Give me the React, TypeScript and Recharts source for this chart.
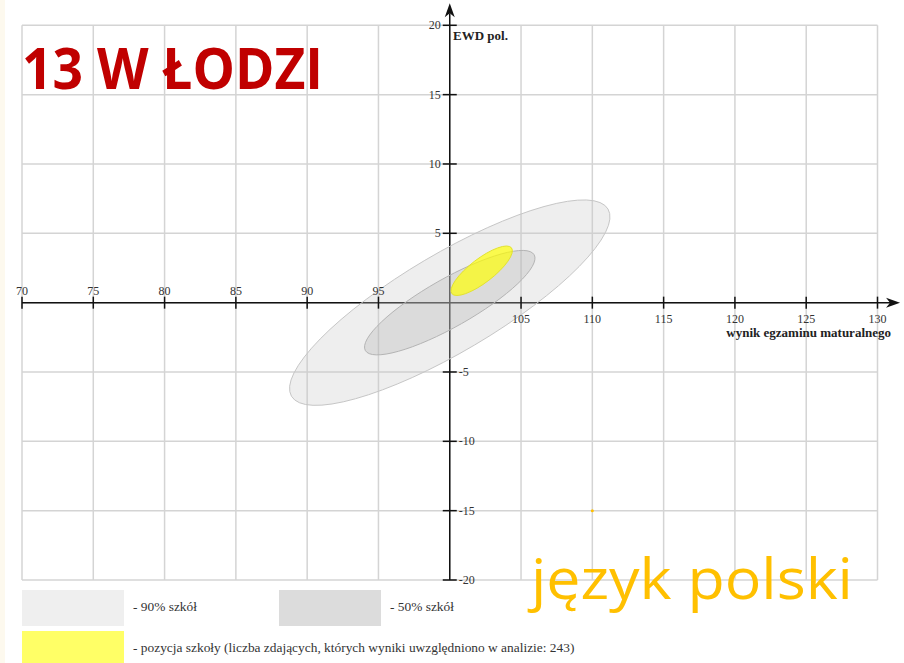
import { ReferenceLine, Scatter, ScatterChart, XAxis, YAxis } from "recharts";

const xTicks = [70, 75, 80, 85, 90, 95, 100, 105, 110, 115, 120, 125, 130];
const yTicks = [-20, -15, -10, -5, 0, 5, 10, 15, 20];

// ellipse = centre, end of first semi-axis, end of second semi-axis
const ellipse90 = [
  { x: 100, y: 0 },
  { x: 111.1, y: 6.75 },
  { x: 98.25, y: 3.05 },
];
const ellipse50 = [
  { x: 100, y: 0 },
  { x: 105.92, y: 3.45 },
  { x: 99.17, y: 1.51 },
];
const schoolEllipse = [
  { x: 102.24, y: 2.3 },
  { x: 104.33, y: 3.95 },
  { x: 101.73, y: 2.98 },
];
const stray = [{ x: 110, y: -15 }];

const legendItems = [
  { label: "- 90% szkół", color: "#efefef" },
  { label: "- 50% szkół", color: "#dcdcdc" },
  {
    label:
      "- pozycja szkoły (liczba zdających, których wyniki uwzględniono w analizie: 243)",
    color: "#ffff66",
  },
];

const serif = '"Liberation Serif", "Times New Roman", serif';
const sans = '"Open Sans", "Noto Sans", sans-serif';

const xTickPoints = xTicks.filter((v) => v !== 100).map((v) => ({ x: v, y: 0 }));
const yTickPoints = yTicks.filter((v) => v !== 0).map((v) => ({ x: 100, y: v }));

function ellipseLine(fill: string, opacity: number, stroke: string) {
  return (props: any) => {
    const pts = props.points || [];
    if (pts.length < 3) return <g />;
    const [c, u, v] = pts;
    const m = `matrix(${u.x - c.x} ${u.y - c.y} ${v.x - c.x} ${v.y - c.y} ${c.x} ${c.y})`;
    return (
      <ellipse
        cx={0}
        cy={0}
        rx={1}
        ry={1}
        transform={m}
        fill={fill}
        fillOpacity={opacity}
        stroke={stroke}
        strokeWidth={1}
        vectorEffect="non-scaling-stroke"
      />
    );
  };
}

const XTick = (props: any) => {
  const { cx, cy, payload } = props;
  const above = payload.x < 100;
  return (
    <g>
      <line x1={cx} x2={cx} y1={cy - 6} y2={cy + 6} stroke="#111" strokeWidth={1.5} />
      <text
        x={cx}
        y={above ? cy - 8 : cy + 20}
        textAnchor="middle"
        fontFamily={serif}
        fontSize={12}
        fill="#333"
      >
        {payload.x}
      </text>
    </g>
  );
};

const YTick = (props: any) => {
  const { cx, cy, payload } = props;
  const left = payload.y > 0;
  return (
    <g>
      <line x1={cx - 7} x2={cx + 7} y1={cy} y2={cy} stroke="#111" strokeWidth={1.5} />
      <text
        x={left ? cx - 9 : cx + 9}
        y={cy + 4}
        textAnchor={left ? "end" : "start"}
        fontFamily={serif}
        fontSize={12}
        fill="#333"
      >
        {payload.y}
      </text>
    </g>
  );
};

const arrowAxis = (props: any) => {
  const { x1, y1, x2, y2 } = props;
  const len = Math.hypot(x2 - x1, y2 - y1) || 1;
  const dx = (x2 - x1) / len;
  const dy = (y2 - y1) / len;
  const px = -dy;
  const py = dx;
  const back = 14;
  const notch = 10;
  const half = 5;
  const pts = [
    [x2, y2],
    [x2 - dx * back + px * half, y2 - dy * back + py * half],
    [x2 - dx * notch, y2 - dy * notch],
    [x2 - dx * back - px * half, y2 - dy * back - py * half],
  ]
    .map((p) => p.join(","))
    .join(" ");
  return (
    <g>
      <line x1={x1} y1={y1} x2={x2 - dx * notch} y2={y2 - dy * notch} stroke="#111" strokeWidth={1.5} />
      <polygon points={pts} fill="#111" />
    </g>
  );
};

const noDot = () => <g />;

export default function App() {
  return (
    <div
      style={{
        position: "absolute",
        left: 0,
        top: 0,
        width: 904,
        height: 663,
        background: "#fff",
        overflow: "hidden",
      }}
    >
      <div style={{ position: "absolute", left: 0, top: 0, width: 5, height: 663, background: "#fdf9ee" }} />
      <ScatterChart
        width={904}
        height={663}
        margin={{ top: 25.3, right: 26.5, bottom: 83, left: 22 }}
      >
        <XAxis type="number" dataKey="x" domain={[70, 130]} ticks={xTicks} hide />
        <YAxis type="number" dataKey="y" domain={[-20, 20]} ticks={yTicks} hide />
        {xTicks.map((v) => (
          <ReferenceLine key={`gx${v}`} x={v} stroke="#d4d4d4" strokeWidth={1.5} />
        ))}
        {yTicks.map((v) => (
          <ReferenceLine key={`gy${v}`} y={v} stroke="#d4d4d4" strokeWidth={1.5} />
        ))}
        <Scatter
          data={ellipse90}
          shape={noDot}
          line={ellipseLine("#c8c8c8", 0.3, "#c6c6c6")}
          isAnimationActive={false}
        />
        <Scatter
          data={ellipse50}
          shape={noDot}
          line={ellipseLine("#b0b0b0", 0.3, "#b4b4b4")}
          isAnimationActive={false}
        />
        <Scatter
          data={schoolEllipse}
          shape={noDot}
          line={ellipseLine("#ffff00", 0.68, "#e2e230")}
          isAnimationActive={false}
        />
        <ReferenceLine
          segment={[
            { x: 70, y: 0 },
            { x: 131.58, y: 0 },
          ]}
          ifOverflow="visible"
          shape={arrowAxis}
        />
        <ReferenceLine
          segment={[
            { x: 100, y: -20 },
            { x: 100, y: 21.59 },
          ]}
          ifOverflow="visible"
          shape={arrowAxis}
        />
        <Scatter data={xTickPoints} shape={XTick} isAnimationActive={false} />
        <Scatter data={yTickPoints} shape={YTick} isAnimationActive={false} />
        <Scatter data={stray} fill="#ffc000" shape={(p: any) => <circle cx={p.cx} cy={p.cy} r={1.5} fill="#ffc000" />} isAnimationActive={false} />
      </ScatterChart>

      <svg
        width={904}
        height={663}
        style={{ position: "absolute", left: 0, top: 0, pointerEvents: "none" }}
      >
        <text x={453} y={40} fontFamily={serif} fontSize={13} fontWeight={700} fill="#222">
          EWD pol.
        </text>
        <text x={891} y={337} textAnchor="end" fontFamily={serif} fontSize={13} fontWeight={700} fill="#222">
          wynik egzaminu maturalnego
        </text>
        <text
          x={22}
          y={89.3}
          fontFamily={sans}
          fontSize={58}
          fontWeight={700}
          fill="#c00000"
          textLength={301}
          lengthAdjust="spacingAndGlyphs"
        >
          13 W ŁODZI
        </text>
        <text
          x={531}
          y={599}
          fontFamily={sans}
          fontSize={57}
          fill="#ffc000"
          textLength={322}
          lengthAdjust="spacingAndGlyphs"
        >
          język polski
        </text>
      </svg>

      {legendItems.map((item, i) => {
        const left = i === 1 ? 279 : 22;
        const top = i === 2 ? 631 : 590;
        const h = i === 2 ? 40 : 36;
        return (
          <div key={item.label}>
            <div
              style={{
                position: "absolute",
                left,
                top,
                width: 102,
                height: h,
                background: item.color,
              }}
            />
            <div
              style={{
                position: "absolute",
                left: left + 111,
                top: top + 9,
                fontFamily: serif,
                fontSize: 13.4,
                lineHeight: "16px",
                color: "#333",
                whiteSpace: "nowrap",
              }}
            >
              {item.label}
            </div>
          </div>
        );
      })}
    </div>
  );
}
